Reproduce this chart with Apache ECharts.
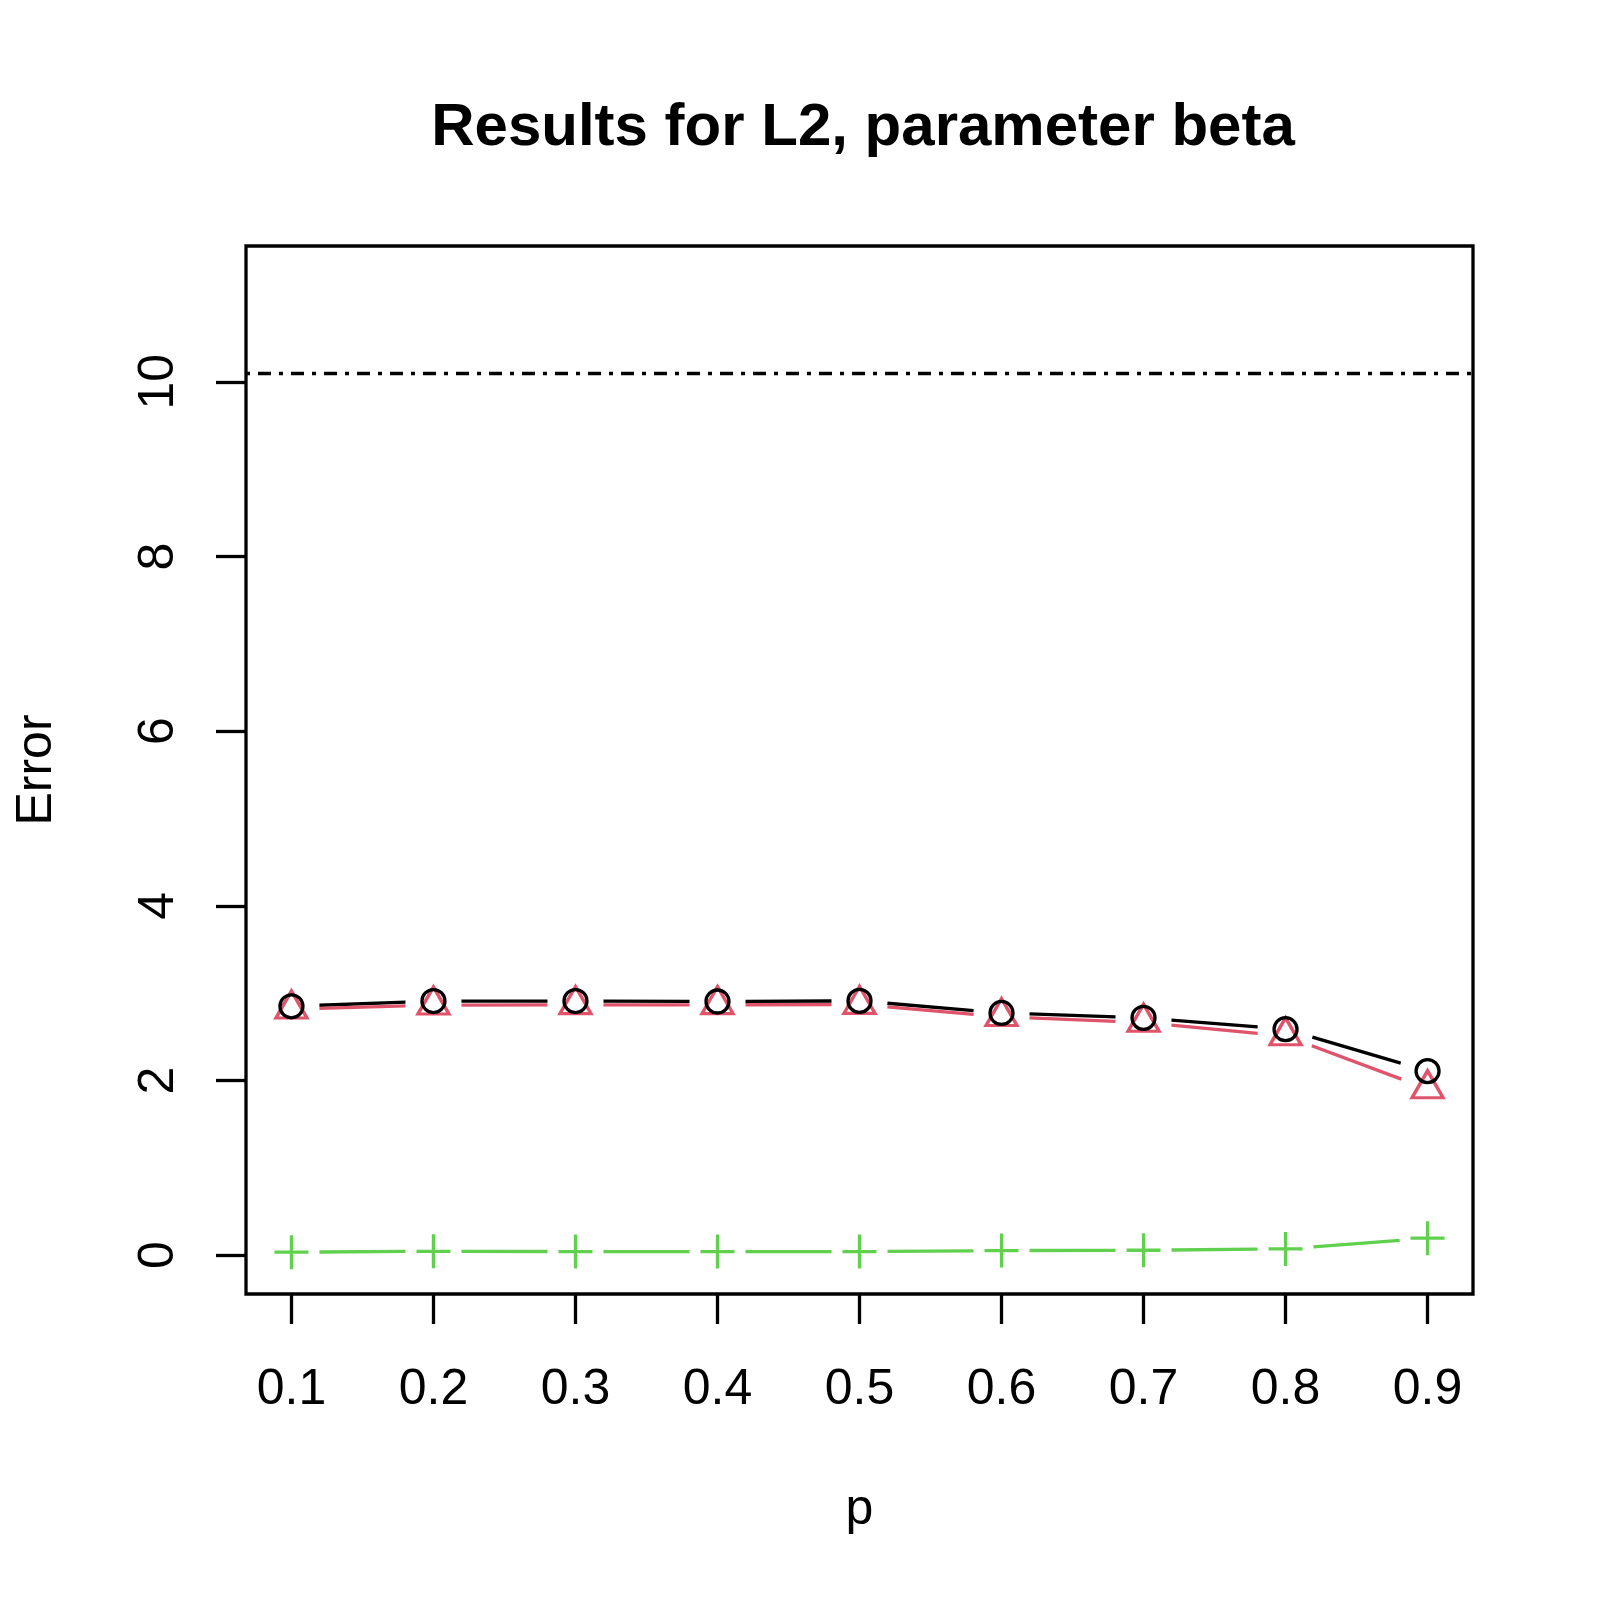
<!DOCTYPE html>
<html lang="en">
<head>
  <meta charset="UTF-8">
  <script src="https://cdn.jsdelivr.net/npm/echarts@6/dist/echarts.min.js"></script>
  <title>Results for L2, parameter beta</title>
  <style>
    * { margin: 0; padding: 0; }
    html, body { width: 100%; height: 100%; background: #fff; }
    #chart { width: 1600px; height: 1600px; }
  </style>
</head>
<body>
<div id="chart"></div>
<script>
  // values
  var pValues = [0.1, 0.2, 0.3, 0.4, 0.5, 0.6, 0.7, 0.8, 0.9];
  var errCircle = [2.85, 2.91, 2.91, 2.905, 2.912, 2.774, 2.718, 2.588, 2.108];
  var errTriangle = [2.817, 2.863, 2.867, 2.867, 2.87, 2.73, 2.665, 2.511, 1.904];
  var errPlus = [0.035, 0.045, 0.042, 0.042, 0.042, 0.053, 0.057, 0.072, 0.195];
  var refLevel = 10.1;
  var xTicks = [0.1, 0.2, 0.3, 0.4, 0.5, 0.6, 0.7, 0.8, 0.9];
  var yTicks = [0, 2, 4, 6, 8, 10];

  var FONT = 'Liberation Sans';
  var LW = 3.3;
  var GAP = 28; // R type="b" leaves a gap around each point

  function pairs(xs, ys) {
    return xs.map(function (x, i) { return [x, ys[i]]; });
  }
  function segments(xs, ys) {
    var out = [];
    for (var i = 0; i < xs.length - 1; i++) {
      out.push([xs[i], ys[i], xs[i + 1], ys[i + 1]]);
    }
    return out;
  }

  function gapLine(name, xs, ys, color) {
    return {
      name: name,
      type: 'custom',
      silent: true,
      z: 2,
      encode: { x: [0, 2], y: [1, 3] },
      data: segments(xs, ys),
      renderItem: function (params, api) {
        var a = api.coord([api.value(0), api.value(1)]);
        var b = api.coord([api.value(2), api.value(3)]);
        var dx = b[0] - a[0], dy = b[1] - a[1];
        var len = Math.sqrt(dx * dx + dy * dy);
        if (len <= 2 * GAP) return null;
        var ux = dx / len, uy = dy / len;
        return {
          type: 'line',
          shape: {
            x1: a[0] + ux * GAP, y1: a[1] + uy * GAP,
            x2: b[0] - ux * GAP, y2: b[1] - uy * GAP
          },
          style: { stroke: color, lineWidth: LW, lineCap: 'butt' }
        };
      }
    };
  }

  function points(name, xs, ys, color, symbol, size, offset, z) {
    return {
      name: name,
      type: 'scatter',
      silent: true,
      z: z,
      symbol: symbol,
      symbolSize: size,
      symbolOffset: offset,
      itemStyle: { color: 'none', borderColor: color, borderWidth: LW, opacity: 1 },
      data: pairs(xs, ys)
    };
  }

  var chart = echarts.init(document.getElementById('chart'));
  var option = {
    animation: false,
    backgroundColor: '#ffffff',
    title: {
      text: 'Results for L2, parameter beta',
      left: 858,
      textAlign: 'center',
      top: 93,
      textStyle: { fontFamily: FONT, fontSize: 60, fontWeight: 'bold', color: '#000' }
    },
    grid: {
      left: 246, top: 246, width: 1227, height: 1048,
      show: true, borderColor: '#000', borderWidth: LW, backgroundColor: 'transparent'
    },
    xAxis: {
      type: 'value',
      min: 0.068, max: 0.932,
      name: 'p',
      nameLocation: 'middle',
      nameGap: 191,
      nameTextStyle: { fontFamily: FONT, fontSize: 50, color: '#000' },
      axisLine: { show: false, onZero: false },
      splitLine: { show: false },
      axisTick: { show: true, length: 30, customValues: xTicks, lineStyle: { color: '#000', width: LW } },
      axisLabel: {
        customValues: xTicks, margin: 71,
        fontFamily: FONT, fontSize: 50, color: '#000',
        formatter: function (v) { return v.toFixed(1); }
      }
    },
    yAxis: {
      type: 'value',
      min: -0.444, max: 11.555,
      name: 'Error',
      nameLocation: 'middle',
      nameGap: 184,
      nameRotate: 90,
      nameTextStyle: { fontFamily: FONT, fontSize: 50, color: '#000' },
      axisLine: { show: false, onZero: false },
      splitLine: { show: false },
      axisTick: { show: true, length: 30, customValues: yTicks, lineStyle: { color: '#000', width: LW } },
      axisLabel: {
        customValues: yTicks, margin: 62, rotate: 90,
        fontFamily: FONT, fontSize: 50, color: '#000'
      }
    },
    series: [
      gapLine('circle line', pValues, errCircle, '#000000'),
      gapLine('triangle line', pValues, errTriangle, '#DF536B'),
      gapLine('plus line', pValues, errPlus, '#61D04F'),
      points('triangle', pValues, errTriangle, '#DF536B', 'triangle', [31, 27], [0, -4.7], 3),
      points('circle', pValues, errCircle, '#000000', 'circle', 23, [0, 0], 4),
      points('plus', pValues, errPlus, '#61D04F', 'path://M0,10L20,10M10,0L10,20', 34, [0, 0], 3),
      {
        name: 'reference',
        type: 'line',
        silent: true,
        data: [],
        markLine: {
          silent: true,
          symbol: ['none', 'none'],
          label: { show: false },
          lineStyle: { color: '#000', width: LW, type: [4, 8, 13, 8] },
          data: [{ yAxis: refLevel }]
        }
      }
    ]
  };
  chart.setOption(option);
</script>
</body>
</html>
